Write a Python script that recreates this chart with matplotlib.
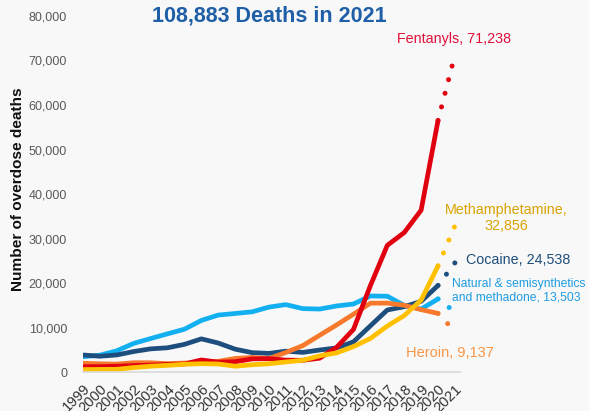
import matplotlib
matplotlib.use("Agg")
import matplotlib.pyplot as plt

plt.rcParams['font.family'] = ['Liberation Sans', 'DejaVu Sans']

years = list(range(1999, 2022))

fentanyl = [1200, 1200, 1300, 1450, 1550, 1700, 1800, 2707, 2213, 2306, 2946, 3007,
            2666, 2628, 3105, 5544, 9580, 19413, 28466, 31335, 36359, 56516, 71238]
heroin = [1960, 1842, 1779, 2089, 2080, 1878, 2009, 2088, 2399, 3041, 3278, 3036,
          4397, 5925, 8257, 10574, 12989, 15469, 15482, 14996, 14019, 13165, 9137]
cocaine = [3822, 3544, 3833, 4599, 5199, 5443, 6208, 7448, 6512, 5129, 4350, 4183,
           4681, 4404, 4944, 5415, 6784, 10375, 13942, 14666, 15883, 19447, 24538]
meth = [547, 578, 606, 1000, 1300, 1500, 1742, 1865, 1800, 1302, 1632, 1854,
        2266, 2635, 3627, 4298, 5716, 7542, 10333, 12676, 16167, 23837, 32856]
natural = [3442, 3785, 4770, 6431, 7518, 8577, 9612, 11589, 12796, 13149, 13523, 14583,
           15140, 14240, 14145, 14838, 15281, 17087, 17029, 14975, 14139, 16416, 13503]

# (label, values, line colour, text colour) in drawing order, bottom to top
series = [
    ("Natural & semisynthetics\nand methadone, 13,503", natural, "#12b0f0", "#1e9be0"),
    ("Cocaine, 24,538", cocaine, "#1d4e7e", "#1f4e79"),
    ("Heroin, 9,137", heroin, "#f7792b", "#f79646"),
    ("Fentanyls, 71,238", fentanyl, "#e00010", "#e0103a"),
    ("Methamphetamine,\n32,856", meth, "#ffc000", "#d9a300"),
]
labels = {s[0]: s for s in series}

bg = "#f8f8f8"
fig = plt.figure(figsize=(5.89, 4.11), dpi=100, facecolor=bg)
ax = fig.add_axes([83 / 589, 39 / 411, (460 - 83) / 589, (395 - 39) / 411])
ax.set_facecolor(bg)

for label, vals, color, tcolor in series:
    ax.plot(years[:-1], vals[:-1], color=color, lw=3.4, solid_capstyle='round',
            solid_joinstyle='round')
    ax.plot(years[-2:], vals[-2:], color=color, lw=3.6,
            linestyle=(0, (0.01, 2.8)), dash_capstyle='round')

ax.set_xlim(1999, 2021.3)
ax.set_ylim(0, 80000)
for s in ['top', 'right', 'left']:
    ax.spines[s].set_visible(False)
ax.spines['bottom'].set_color('#d9d9d9')
ax.spines['bottom'].set_linewidth(1.2)

ax.set_yticks(range(0, 80001, 10000))
ax.set_yticklabels([f"{v:,}" for v in range(0, 80001, 10000)])
ax.set_xticks(years)
ax.set_xticklabels([str(y) for y in years], rotation=45, ha='right',
                   rotation_mode='anchor', fontsize=10.5, color='#333333')
ax.tick_params(axis='both', length=0)
ax.tick_params(axis='y', labelsize=9, labelcolor='#595959', pad=11.5)
ax.tick_params(axis='x', pad=7)

fig.text(18 / 589, 1 - 189 / 411, "Number of overdose deaths", rotation=90,
         ha='center', va='center', fontsize=11.1, fontweight='bold', color='#111111')

fig.text(269 / 589, 1 - 16 / 411, "108,883 Deaths in 2021", ha='center', va='center',
         fontsize=15.5, fontweight='bold', color='#1f5fa8')

# Callout labels next to the 2021 values
def callout(key, x, y, size, ha='center'):
    _, _, _, tcolor = labels[key]
    fig.text(x / 589, 1 - y / 411, key, ha=ha, va='center', fontsize=size,
             color=tcolor, linespacing=1.2)

callout("Fentanyls, 71,238", 454, 39, 10.3)
callout("Methamphetamine,\n32,856", 506, 218, 10.3)
callout("Cocaine, 24,538", 518, 260, 10.3)
callout("Natural & semisynthetics\nand methadone, 13,503", 452, 291, 8.7, ha='left')
callout("Heroin, 9,137", 450, 353, 10.5)

fig.savefig("out.png", dpi=100, facecolor=bg)
